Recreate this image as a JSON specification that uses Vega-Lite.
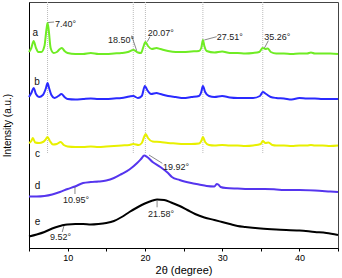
{
  "$schema": "https://vega.github.io/schema/vega-lite/v6.json",
  "width": 309,
  "height": 246,
  "autosize": "none",
  "padding": {"left": 29, "top": 2, "right": 4, "bottom": 30},
  "config": {
    "view": {"stroke": "#444", "strokeWidth": 1},
    "font": "Liberation Sans"
  },
  "datasets": {
    "curves": [
      {"s":"a","x":5.0,"y":198},{"s":"a","x":5.3,"y":202},{"s":"a","x":5.6,"y":209},{"s":"a","x":5.9,"y":202},{"s":"a","x":6.2,"y":198},{"s":"a","x":6.6,"y":198},{"s":"a","x":7.0,"y":204},{"s":"a","x":7.25,"y":220},{"s":"a","x":7.4,"y":227},{"s":"a","x":7.55,"y":220},{"s":"a","x":7.8,"y":202},{"s":"a","x":8.2,"y":197},{"s":"a","x":8.6,"y":198},{"s":"a","x":9.0,"y":201},{"s":"a","x":9.25,"y":202},{"s":"a","x":9.6,"y":199},{"s":"a","x":10,"y":197},{"s":"a","x":11,"y":196},{"s":"a","x":12,"y":196},{"s":"a","x":13,"y":197},{"s":"a","x":14,"y":196},{"s":"a","x":15,"y":196},{"s":"a","x":16,"y":196.5},{"s":"a","x":17,"y":197},{"s":"a","x":17.8,"y":198},{"s":"a","x":18.5,"y":200},{"s":"a","x":19.1,"y":197.5},{"s":"a","x":19.5,"y":197},{"s":"a","x":19.8,"y":203},{"s":"a","x":20.07,"y":208},{"s":"a","x":20.4,"y":204},{"s":"a","x":20.9,"y":201},{"s":"a","x":21.5,"y":202},{"s":"a","x":22,"y":201},{"s":"a","x":23,"y":199},{"s":"a","x":24,"y":198},{"s":"a","x":25,"y":198},{"s":"a","x":26,"y":198.5},{"s":"a","x":27,"y":199},{"s":"a","x":27.3,"y":202},{"s":"a","x":27.51,"y":210},{"s":"a","x":27.7,"y":204},{"s":"a","x":28,"y":199},{"s":"a","x":29,"y":197.5},{"s":"a","x":30,"y":198.5},{"s":"a","x":31,"y":197},{"s":"a","x":32,"y":197},{"s":"a","x":33,"y":196.5},{"s":"a","x":34,"y":197},{"s":"a","x":34.8,"y":198},{"s":"a","x":35.26,"y":202},{"s":"a","x":35.6,"y":201},{"s":"a","x":35.9,"y":201.5},{"s":"a","x":36.3,"y":198},{"s":"a","x":37,"y":196.5},{"s":"a","x":38,"y":196.5},{"s":"a","x":39,"y":196},{"s":"a","x":40,"y":196.5},{"s":"a","x":41,"y":196.5},{"s":"a","x":41.5,"y":197.5},{"s":"a","x":42,"y":196.5},{"s":"a","x":43,"y":196.5},{"s":"a","x":44,"y":196.5},{"s":"a","x":45,"y":196},
      {"s":"b","x":5.0,"y":153},{"s":"b","x":5.3,"y":157},{"s":"b","x":5.6,"y":162},{"s":"b","x":5.9,"y":156},{"s":"b","x":6.3,"y":153},{"s":"b","x":6.8,"y":155},{"s":"b","x":7.2,"y":162},{"s":"b","x":7.4,"y":167},{"s":"b","x":7.6,"y":162},{"s":"b","x":7.9,"y":155},{"s":"b","x":8.3,"y":152},{"s":"b","x":8.8,"y":154},{"s":"b","x":9.2,"y":156},{"s":"b","x":9.6,"y":153},{"s":"b","x":10,"y":151},{"s":"b","x":11,"y":150.5},{"s":"b","x":12,"y":151},{"s":"b","x":13,"y":151.5},{"s":"b","x":14,"y":151},{"s":"b","x":15,"y":151},{"s":"b","x":16,"y":151.5},{"s":"b","x":17,"y":152},{"s":"b","x":18,"y":153.5},{"s":"b","x":18.5,"y":154},{"s":"b","x":19.1,"y":152},{"s":"b","x":19.6,"y":154},{"s":"b","x":20.0,"y":164},{"s":"b","x":20.3,"y":160},{"s":"b","x":20.8,"y":156},{"s":"b","x":21.5,"y":157},{"s":"b","x":22,"y":156},{"s":"b","x":23,"y":154},{"s":"b","x":24,"y":153},{"s":"b","x":25,"y":152},{"s":"b","x":26,"y":153},{"s":"b","x":27,"y":154},{"s":"b","x":27.3,"y":158},{"s":"b","x":27.51,"y":164},{"s":"b","x":27.8,"y":158},{"s":"b","x":28.3,"y":154},{"s":"b","x":29,"y":153},{"s":"b","x":30,"y":154},{"s":"b","x":31,"y":152.5},{"s":"b","x":32,"y":152},{"s":"b","x":33,"y":152},{"s":"b","x":34,"y":152},{"s":"b","x":34.9,"y":154},{"s":"b","x":35.26,"y":158},{"s":"b","x":35.7,"y":156},{"s":"b","x":36.3,"y":153},{"s":"b","x":37,"y":152},{"s":"b","x":38,"y":151.5},{"s":"b","x":39,"y":150.5},{"s":"b","x":40,"y":152},{"s":"b","x":41,"y":151.5},{"s":"b","x":42,"y":151.5},{"s":"b","x":43,"y":151},{"s":"b","x":44,"y":151},{"s":"b","x":45,"y":151},
      {"s":"c","x":5.0,"y":107},{"s":"c","x":5.3,"y":109},{"s":"c","x":5.5,"y":112},{"s":"c","x":5.8,"y":107.5},{"s":"c","x":6.3,"y":107},{"s":"c","x":6.8,"y":108},{"s":"c","x":7.1,"y":110},{"s":"c","x":7.4,"y":113},{"s":"c","x":7.7,"y":109},{"s":"c","x":8.1,"y":105.5},{"s":"c","x":8.6,"y":106},{"s":"c","x":9.1,"y":108},{"s":"c","x":9.5,"y":105},{"s":"c","x":10,"y":103.5},{"s":"c","x":11,"y":103},{"s":"c","x":12,"y":103},{"s":"c","x":13,"y":103.5},{"s":"c","x":14,"y":103},{"s":"c","x":15,"y":103.5},{"s":"c","x":16,"y":104},{"s":"c","x":17,"y":104.5},{"s":"c","x":18,"y":105},{"s":"c","x":18.5,"y":106},{"s":"c","x":19.2,"y":105},{"s":"c","x":19.6,"y":107},{"s":"c","x":19.9,"y":113},{"s":"c","x":20.1,"y":116},{"s":"c","x":20.4,"y":112},{"s":"c","x":21,"y":108.5},{"s":"c","x":22,"y":108},{"s":"c","x":23,"y":107},{"s":"c","x":24,"y":106.5},{"s":"c","x":25,"y":106},{"s":"c","x":26,"y":106},{"s":"c","x":27,"y":106.5},{"s":"c","x":27.3,"y":109},{"s":"c","x":27.51,"y":113},{"s":"c","x":27.8,"y":108},{"s":"c","x":28.3,"y":105},{"s":"c","x":29,"y":104.5},{"s":"c","x":30,"y":105},{"s":"c","x":31,"y":104.5},{"s":"c","x":32,"y":104.5},{"s":"c","x":33,"y":104},{"s":"c","x":34,"y":104.5},{"s":"c","x":35,"y":106},{"s":"c","x":35.26,"y":109},{"s":"c","x":35.6,"y":107},{"s":"c","x":36,"y":107.5},{"s":"c","x":36.5,"y":105},{"s":"c","x":37,"y":104.5},{"s":"c","x":38,"y":104.5},{"s":"c","x":39,"y":104},{"s":"c","x":40,"y":104.5},{"s":"c","x":41,"y":104.5},{"s":"c","x":41.5,"y":105},{"s":"c","x":42,"y":104.5},{"s":"c","x":43,"y":104.5},{"s":"c","x":44,"y":104},{"s":"c","x":45,"y":104.5},
      {"s":"d","x":5.0,"y":53.5},{"s":"d","x":6,"y":53.5},{"s":"d","x":7,"y":54},{"s":"d","x":8,"y":55.5},{"s":"d","x":9,"y":58},{"s":"d","x":10,"y":61},{"s":"d","x":10.95,"y":63.5},{"s":"d","x":12,"y":67},{"s":"d","x":13,"y":68},{"s":"d","x":14,"y":68.5},{"s":"d","x":15,"y":69.5},{"s":"d","x":16,"y":72},{"s":"d","x":17,"y":76},{"s":"d","x":18,"y":80.5},{"s":"d","x":19,"y":87},{"s":"d","x":19.5,"y":91},{"s":"d","x":19.92,"y":94.5},{"s":"d","x":20.3,"y":93},{"s":"d","x":21,"y":88},{"s":"d","x":22,"y":83},{"s":"d","x":23,"y":77},{"s":"d","x":23.5,"y":73},{"s":"d","x":24.5,"y":70},{"s":"d","x":26,"y":67},{"s":"d","x":27,"y":65.5},{"s":"d","x":28,"y":64},{"s":"d","x":29,"y":63.5},{"s":"d","x":29.3,"y":66},{"s":"d","x":29.5,"y":65.5},{"s":"d","x":29.8,"y":63},{"s":"d","x":30.5,"y":62},{"s":"d","x":32,"y":61.5},{"s":"d","x":34,"y":61},{"s":"d","x":35.5,"y":61},{"s":"d","x":37,"y":60.5},{"s":"d","x":38,"y":60},{"s":"d","x":40,"y":60},{"s":"d","x":42,"y":59.5},{"s":"d","x":44,"y":58.5},{"s":"d","x":45,"y":58},
      {"s":"e","x":5.0,"y":13.5},{"s":"e","x":6,"y":15.5},{"s":"e","x":7,"y":18},{"s":"e","x":8,"y":21.5},{"s":"e","x":9,"y":24},{"s":"e","x":9.52,"y":25},{"s":"e","x":10,"y":25.5},{"s":"e","x":11,"y":26},{"s":"e","x":12,"y":26},{"s":"e","x":13,"y":25.5},{"s":"e","x":14,"y":26},{"s":"e","x":15,"y":27},{"s":"e","x":16,"y":29},{"s":"e","x":17,"y":33},{"s":"e","x":18,"y":38},{"s":"e","x":19,"y":42.5},{"s":"e","x":20,"y":46.5},{"s":"e","x":21,"y":49.5},{"s":"e","x":21.58,"y":50.5},{"s":"e","x":22.5,"y":50},{"s":"e","x":23.4,"y":47.5},{"s":"e","x":24.5,"y":44},{"s":"e","x":25.5,"y":40},{"s":"e","x":26.5,"y":36},{"s":"e","x":27.7,"y":32.5},{"s":"e","x":29,"y":30},{"s":"e","x":30,"y":28},{"s":"e","x":31,"y":26},{"s":"e","x":32,"y":24},{"s":"e","x":33,"y":23},{"s":"e","x":35,"y":21.5},{"s":"e","x":37,"y":20.5},{"s":"e","x":40,"y":19.5},{"s":"e","x":42,"y":18},{"s":"e","x":43.5,"y":17},{"s":"e","x":45,"y":15}
    ],
    "vlines": [
      {"x":7.40,"y":248,"y2":97},{"x":18.50,"y":248,"y2":97},{"x":20.07,"y":248,"y2":97},{"x":27.51,"y":248,"y2":97},{"x":35.26,"y":248,"y2":97}
    ],
    "leaders": [
      {"x":7.46,"y":227.5,"x2":8.25,"y2":228},
      {"x":18.29,"y":214.3,"x2":18.94,"y2":199.3},
      {"x":20.31,"y":208.3,"x2":20.66,"y2":213.3},
      {"x":27.69,"y":210,"x2":29.3,"y2":213.3},
      {"x":35.46,"y":201.7,"x2":35.98,"y2":209.3},
      {"x":20.53,"y":95,"x2":22.26,"y2":86.7},
      {"x":10.95,"y":63,"x2":10.95,"y2":56},
      {"x":21.58,"y":49.3,"x2":21.58,"y2":42.7},
      {"x":9.52,"y":24,"x2":9.3,"y2":18}
    ],
    "notes": [
      {"t":"7.40°","x":8.37,"y":226},
      {"t":"18.50°","x":15.23,"y":210.5},
      {"t":"20.07°","x":20.37,"y":216.7},
      {"t":"27.51°","x":29.3,"y":213.3},
      {"t":"35.26°","x":35.46,"y":213.3},
      {"t":"19.92°","x":22.35,"y":83},
      {"t":"10.95°","x":9.4,"y":50.3},
      {"t":"21.58°","x":20.4,"y":36},
      {"t":"9.52°","x":7.72,"y":12.7}
    ],
    "letters": [
      {"t":"a","x":5.8,"y":217},
      {"t":"b","x":6.05,"y":168},
      {"t":"c","x":6.1,"y":96},
      {"t":"d","x":6.1,"y":64},
      {"t":"e","x":6.1,"y":28}
    ]
  },
  "encoding": {
    "x": {"field": "x", "type": "quantitative", "scale": {"domain": [5, 45], "nice": false, "zero": false},
      "axis": {"title": "2θ (degree)", "grid": false, "values": [5, 10, 15, 20, 25, 30, 35, 40, 45], "labelExpr": "datum.value % 10 == 0 ? datum.label : ''", "labelOverlap": false, "tickSize": 3, "labelFontSize": 9, "titleFontSize": 11, "titleFontWeight": "normal", "labelColor": "#000", "titleColor": "#000", "domainColor": "#000", "tickColor": "#000", "labelPadding": 2, "titlePadding": 2}},
    "y": {"field": "y", "type": "quantitative", "scale": {"domain": [2, 248], "nice": false, "zero": false},
      "axis": {"title": "Intensity (a.u.)", "grid": false, "labels": false, "ticks": false, "domainColor": "#000", "titleColor": "#000", "titleFontWeight": "normal", "titleFontSize": 10, "titleAngle": -90, "titleX": -27, "titleY": 123, "titleBaseline": "top", "titleAlign": "center"}}
  },
  "layer": [
    {
      "data": {"name": "vlines"},
      "mark": {"type": "rule", "color": "#bbbbbb", "strokeWidth": 1, "strokeDash": [1, 1]},
      "encoding": {"y2": {"field": "y2"}}
    },
    {
      "data": {"name": "curves"},
      "mark": {"type": "line", "interpolate": "monotone"},
      "encoding": {
        "color": {"field": "s", "type": "nominal", "legend": null, "scale": {"domain": ["a", "b", "c", "d", "e"], "range": ["#6fec24", "#2a2aff", "#e8f000", "#5535ee", "#000000"]}},
        "strokeWidth": {"field": "s", "type": "nominal", "legend": null, "scale": {"domain": ["a", "b", "c", "d", "e"], "range": [2, 2, 2, 2, 2.6]}}
      }
    },
    {
      "data": {"name": "leaders"},
      "mark": {"type": "rule", "color": "#555555", "strokeWidth": 0.7},
      "encoding": {"x2": {"field": "x2"}, "y2": {"field": "y2"}}
    },
    {
      "data": {"name": "notes"},
      "mark": {"type": "text", "align": "left", "baseline": "middle", "fontSize": 9, "color": "#222"},
      "encoding": {"text": {"field": "t"}}
    },
    {
      "data": {"name": "letters"},
      "mark": {"type": "text", "align": "center", "baseline": "middle", "fontSize": 10, "color": "#111"},
      "encoding": {"text": {"field": "t"}}
    }
  ]
}
